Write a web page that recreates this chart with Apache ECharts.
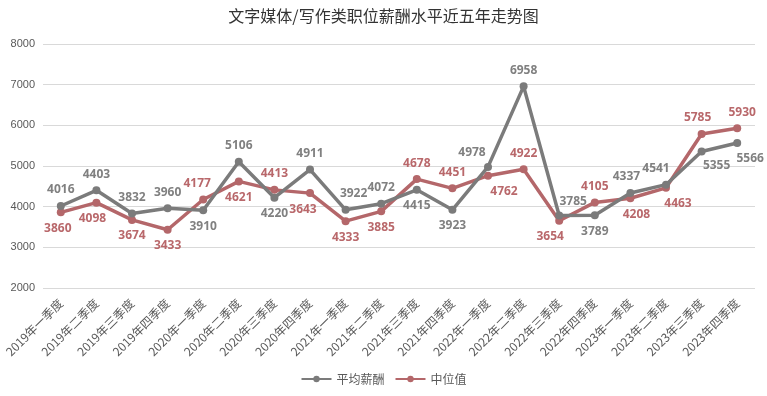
<!DOCTYPE html>
<html>
<head>
<meta charset="utf-8">
<script src="https://cdn.jsdelivr.net/npm/echarts@6/dist/echarts.min.js"></script>
<style>
  html, body { margin: 0; padding: 0; background: #fff; }
  #chartBox { width: 767px; height: 396px; }
</style>
</head>
<body>
<div id="chartBox"></div>
<script>
// categories
const quarters = [
  '2019年一季度', '2019年二季度', '2019年三季度', '2019年四季度',
  '2020年一季度', '2020年二季度', '2020年三季度', '2020年四季度',
  '2021年一季度', '2021年二季度', '2021年三季度', '2021年四季度',
  '2022年一季度', '2022年二季度', '2022年三季度', '2022年四季度',
  '2023年一季度', '2023年二季度', '2023年三季度', '2023年四季度'
];
// 平均薪酬
const avgPay = [4016, 4403, 3832, 3960, 3910, 5106, 4220, 4911, 3922, 4072,
                4415, 3923, 4978, 6958, 3785, 3789, 4337, 4541, 5355, 5566];
// 中位值
const medianPay = [3860, 4098, 3674, 3433, 4177, 4621, 4413, 4333, 3643, 3885,
                   4678, 4451, 4762, 4922, 3654, 4105, 4208, 4463, 5785, 5930];
// label text as printed in the source picture (two labels are swapped there)
const medianLabels = [3860, 4098, 3674, 3433, 4177, 4621, 4413, 3643, 4333, 3885,
                      4678, 4451, 4762, 4922, 3654, 4105, 4208, 4463, 5785, 5930];
const yTicks = { min: 2000, max: 8000, interval: 1000 };

// label placement per point (position + nudge)
const avgPos = ['top', 'top', 'top', 'top', 'bottom', 'top', 'bottom', 'top', 'top', 'top',
                'bottom', 'bottom', 'top', 'top', 'top', 'bottom', 'top', 'top', 'bottom', 'bottom'];
const avgNudge = { 8: [8, 0], 12: [-16, 2], 14: [14, 2], 16: [-4, 0], 17: [-10, 0], 18: [15, -2], 19: [13, 0] };
const medPos = ['bottom', 'bottom', 'bottom', 'bottom', 'top', 'bottom', 'top', 'bottom', 'bottom', 'bottom',
                'top', 'top', 'bottom', 'top', 'bottom', 'top', 'bottom', 'bottom', 'top', 'top'];
const medNudge = { 0: [-3, 0], 1: [-4, 0], 4: [-6, 0], 7: [-7, 0], 12: [16, 0], 14: [-9, 0], 16: [6, 0], 17: [12, 0], 18: [-4, 0], 19: [5, 0] };

const GRAY = '#7b7b7b';
const RED = '#b4676a';

function build(values, pos, nudge, texts) {
  return values.map((v, i) => ({
    value: v,
    label: {
      position: pos[i],
      offset: nudge[i] || [0, 0],
      formatter: String(texts ? texts[i] : v)
    }
  }));
}

let myChart = echarts.init(document.getElementById('chartBox'));
let option = {
  animation: false,
  title: {
    text: '文字媒体/写作类职位薪酬水平近五年走势图',
    left: 'center',
    top: 3,
    textStyle: {
      fontFamily: 'Noto Sans CJK SC',
      fontSize: 16,
      fontWeight: 'normal',
      color: '#333333'
    }
  },
  legend: {
    bottom: 6,
    left: 'center',
    itemWidth: 30,
    itemHeight: 8,
    itemGap: 10,
    textStyle: { fontFamily: 'Noto Sans CJK SC', fontSize: 12, color: '#595959' },
    data: ['平均薪酬', '中位值']
  },
  grid: { left: 43, right: 12, top: 44, bottom: 108 },
  xAxis: {
    type: 'category',
    data: quarters,
    axisLine: { show: false },
    axisTick: { show: false },
    axisLabel: {
      rotate: 45,
      interval: 0,
      margin: 13,
      fontFamily: 'Noto Sans CJK SC',
      fontSize: 12,
      color: '#595959'
    }
  },
  yAxis: {
    type: 'value',
    min: yTicks.min,
    max: yTicks.max,
    interval: yTicks.interval,
    axisLine: { show: false },
    axisTick: { show: false },
    axisLabel: {
      fontFamily: 'Liberation Sans',
      fontSize: 11,
      color: '#595959',
      margin: 8,
      formatter: v => String(v)
    },
    splitLine: { lineStyle: { color: '#d9d9d9', width: 1 } }
  },
  series: [
    {
      name: '平均薪酬',
      type: 'line',
      data: build(avgPay, avgPos, avgNudge),
      symbol: 'circle',
      symbolSize: 8,
      lineStyle: { color: GRAY, width: 3.5 },
      itemStyle: { color: GRAY },
      label: {
        show: true,
        distance: 6,
        fontFamily: 'Open Sans',
        fontSize: 12,
        fontWeight: 'bold',
        color: '#808080'
      },
      z: 3
    },
    {
      name: '中位值',
      type: 'line',
      data: build(medianPay, medPos, medNudge, medianLabels),
      symbol: 'circle',
      symbolSize: 8,
      lineStyle: { color: RED, width: 3.5 },
      itemStyle: { color: RED },
      label: {
        show: true,
        distance: 6,
        fontFamily: 'Open Sans',
        fontSize: 12,
        fontWeight: 'bold',
        color: '#b9686b'
      },
      z: 2
    }
  ]
};
myChart.setOption(option);
</script>
</body>
</html>
